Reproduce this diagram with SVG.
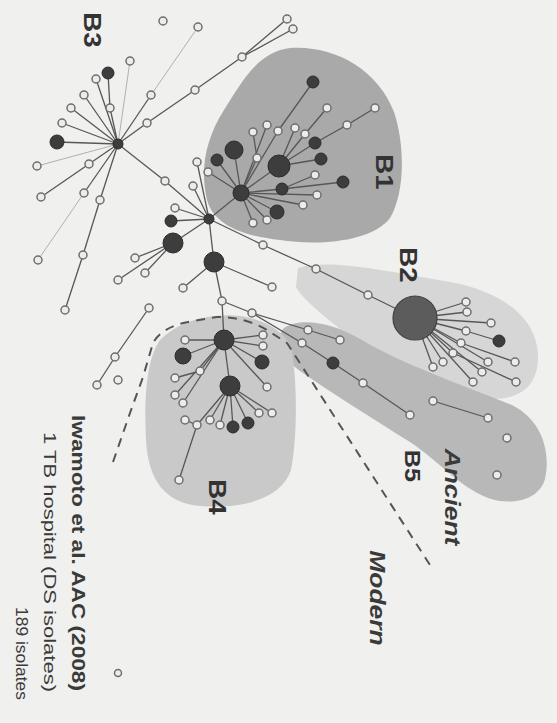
<svg xmlns="http://www.w3.org/2000/svg" width="557" height="723" viewBox="0 0 557 723">
<style>
.bg{fill:#f0f0ee}
.e{stroke:#575757;stroke-width:1.3;fill:none}
.ef{stroke:#b0b0b0;stroke-width:1;fill:none}
.o{fill:#ececec;stroke:#6e6e6e;stroke-width:1.5}
.d{fill:#3d3d3d;stroke:#2c2c2c;stroke-width:1}
.lab{font-family:"Liberation Sans",Arial,sans-serif;font-weight:bold;fill:#333}
.it{font-style:italic;fill:#3a3a3a}
.cap{font-family:"Liberation Sans",Arial,sans-serif;fill:#3a3a3a}
</style>
<rect class="bg" x="0" y="0" width="557" height="723"/>
<g id="regions">
<path id="regB1" d="M290,48 C335,45 378,70 394,112 C406,148 404,195 390,218 C372,242 318,246 280,240 C245,236 214,226 207,200 C200,170 205,140 224,110 C243,80 258,52 290,48 Z" fill="#a9a9a9"/>
<path id="regB2" d="M298,268 C330,258 390,272 450,282 C505,292 538,320 538,357 C538,392 512,402 482,398 C440,392 402,372 372,352 C340,330 304,302 296,287 Z" fill="#d6d6d6"/>
<path id="regB5" d="M284,328 C300,317 332,322 362,340 C402,364 462,385 512,405 C542,420 551,452 545,479 C539,501 510,506 488,498 C458,486 440,462 410,442 C370,417 330,392 300,371 C280,356 274,338 284,328 Z" fill="#b8b8b8"/>
<path id="regB4" d="M215,316 C250,312 282,326 291,347 C298,382 297,440 291,470 C281,500 240,509 200,506 C165,503 148,480 146,440 C144,400 146,360 160,340 C175,325 195,318 215,316 Z" fill="#c9c9c9"/>
</g>
<path id="divider" d="M113,462 L130,413 L143,377 L153,343 Q162,326 193,321 L217,317 Q245,317 267,330 L287,343 L430,565" fill="none" stroke="#555" stroke-width="2" stroke-dasharray="9,7"/>
<g id="edges">
<line class="e" x1="118" y1="144" x2="147" y2="123"/><line class="e" x1="147" y1="123" x2="195" y2="90"/><line class="e" x1="195" y1="90" x2="242" y2="57"/><line class="e" x1="242" y1="57" x2="287" y2="19"/><line class="e" x1="242" y1="57" x2="293" y2="29"/>
<line class="e" x1="118" y1="144" x2="151" y2="95"/><line class="ef" x1="151" y1="95" x2="198" y2="27"/><line class="ef" x1="118" y1="144" x2="130" y2="61"/>
<line class="e" x1="118" y1="144" x2="110" y2="108"/><line class="e" x1="110" y1="108" x2="108" y2="73"/>
<line class="e" x1="118" y1="144" x2="96" y2="79"/><line class="e" x1="118" y1="144" x2="84" y2="95"/><line class="e" x1="118" y1="144" x2="71" y2="108"/><line class="e" x1="118" y1="144" x2="62" y2="123"/><line class="e" x1="118" y1="144" x2="57" y2="142"/>
<line class="ef" x1="118" y1="144" x2="37" y2="166"/><line class="e" x1="118" y1="144" x2="89" y2="164"/><line class="e" x1="89" y1="164" x2="41" y2="197"/>
<line class="e" x1="118" y1="144" x2="84" y2="193"/><line class="ef" x1="84" y1="193" x2="38" y2="260"/>
<line class="e" x1="118" y1="144" x2="100" y2="200"/><line class="e" x1="100" y1="200" x2="83" y2="255"/><line class="e" x1="83" y1="255" x2="65" y2="310"/>
<line class="e" x1="118" y1="144" x2="165" y2="181"/><line class="e" x1="165" y1="181" x2="209" y2="219"/>
<line class="e" x1="209" y1="219" x2="171" y2="221"/><line class="e" x1="209" y1="219" x2="175" y2="208"/><line class="e" x1="209" y1="219" x2="193" y2="186"/><line class="e" x1="209" y1="219" x2="197" y2="162"/>
<line class="e" x1="209" y1="219" x2="173" y2="243"/><line class="e" x1="173" y1="243" x2="135" y2="258"/><line class="e" x1="173" y1="243" x2="145" y2="273"/><line class="e" x1="173" y1="243" x2="118" y2="280"/>
<line class="e" x1="209" y1="219" x2="214" y2="262"/><line class="e" x1="214" y1="262" x2="183" y2="288"/><line class="e" x1="214" y1="262" x2="272" y2="287"/><line class="e" x1="214" y1="262" x2="222" y2="301"/>
<line class="e" x1="209" y1="219" x2="263" y2="245"/><line class="e" x1="263" y1="245" x2="316" y2="269"/><line class="e" x1="316" y1="269" x2="368" y2="295"/><line class="e" x1="368" y1="295" x2="415" y2="318"/>
<line class="e" x1="149" y1="308" x2="115" y2="357"/><line class="e" x1="115" y1="357" x2="97" y2="385"/>
<line class="e" x1="209" y1="219" x2="241" y2="193"/>
<line class="e" x1="241" y1="193" x2="279" y2="166"/><line class="e" x1="241" y1="193" x2="234" y2="150"/><line class="e" x1="241" y1="193" x2="217" y2="160"/><line class="e" x1="241" y1="193" x2="208" y2="172"/>
<line class="e" x1="241" y1="193" x2="282" y2="189"/><line class="e" x1="282" y1="189" x2="343" y2="182"/><line class="e" x1="282" y1="189" x2="315" y2="175"/>
<line class="e" x1="241" y1="193" x2="317" y2="195"/><line class="e" x1="241" y1="193" x2="303" y2="205"/><line class="e" x1="241" y1="193" x2="277" y2="212"/><line class="e" x1="241" y1="193" x2="253" y2="223"/><line class="e" x1="241" y1="193" x2="267" y2="220"/>
<line class="e" x1="241" y1="193" x2="257" y2="158"/><line class="e" x1="257" y1="158" x2="253" y2="132"/><line class="e" x1="241" y1="193" x2="267" y2="125"/><line class="e" x1="241" y1="193" x2="278" y2="131"/><line class="e" x1="278" y1="131" x2="313" y2="82"/>
<line class="e" x1="279" y1="166" x2="295" y2="128"/><line class="e" x1="279" y1="166" x2="305" y2="134"/><line class="e" x1="305" y1="134" x2="327" y2="108"/>
<line class="e" x1="279" y1="166" x2="315" y2="143"/><line class="e" x1="315" y1="143" x2="347" y2="125"/><line class="e" x1="347" y1="125" x2="375" y2="108"/><line class="e" x1="279" y1="166" x2="321" y2="159"/>
<line class="e" x1="415" y1="318" x2="466" y2="302"/><line class="e" x1="415" y1="318" x2="467" y2="312"/><line class="e" x1="415" y1="318" x2="491" y2="323"/><line class="e" x1="415" y1="318" x2="466" y2="331"/><line class="e" x1="466" y1="331" x2="499" y2="341"/>
<line class="e" x1="415" y1="318" x2="461" y2="343"/><line class="e" x1="461" y1="343" x2="515" y2="362"/><line class="e" x1="415" y1="318" x2="453" y2="353"/><line class="e" x1="453" y1="353" x2="516" y2="382"/>
<line class="e" x1="415" y1="318" x2="488" y2="362"/><line class="e" x1="415" y1="318" x2="482" y2="372"/><line class="e" x1="415" y1="318" x2="473" y2="382"/><line class="e" x1="415" y1="318" x2="443" y2="362"/><line class="e" x1="415" y1="318" x2="433" y2="367"/>
<line class="e" x1="222" y1="301" x2="252" y2="313"/><line class="e" x1="252" y1="313" x2="308" y2="330"/><line class="e" x1="308" y1="330" x2="340" y2="340"/>
<line class="e" x1="252" y1="313" x2="302" y2="343"/><line class="e" x1="302" y1="343" x2="333" y2="363"/><line class="e" x1="333" y1="363" x2="363" y2="383"/><line class="e" x1="363" y1="383" x2="410" y2="415"/>
<line class="e" x1="433" y1="401" x2="488" y2="418"/>
<line class="e" x1="222" y1="301" x2="224" y2="340"/><line class="e" x1="224" y1="340" x2="230" y2="386"/>
<line class="e" x1="224" y1="340" x2="183" y2="356"/><line class="e" x1="224" y1="340" x2="185" y2="340"/><line class="e" x1="224" y1="340" x2="263" y2="335"/><line class="e" x1="224" y1="340" x2="263" y2="346"/><line class="e" x1="224" y1="340" x2="262" y2="362"/><line class="e" x1="224" y1="340" x2="267" y2="387"/>
<line class="e" x1="224" y1="340" x2="200" y2="371"/><line class="e" x1="200" y1="371" x2="175" y2="378"/><line class="e" x1="224" y1="340" x2="175" y2="395"/><line class="e" x1="224" y1="340" x2="183" y2="403"/>
<line class="e" x1="230" y1="386" x2="210" y2="420"/><line class="e" x1="230" y1="386" x2="220" y2="425"/><line class="e" x1="230" y1="386" x2="233" y2="427"/><line class="e" x1="230" y1="386" x2="248" y2="423"/><line class="e" x1="230" y1="386" x2="259" y2="413"/><line class="e" x1="230" y1="386" x2="272" y2="413"/>
<line class="e" x1="230" y1="386" x2="197" y2="425"/><line class="e" x1="197" y1="425" x2="185" y2="420"/><line class="e" x1="197" y1="425" x2="179" y2="480"/>
</g>
<g id="nodes">
<g id="h3"><circle class="d" cx="118" cy="144" r="5"/></g>
<g id="a1"><circle class="o" cx="147" cy="123" r="4"/></g>
<g id="a2"><circle class="o" cx="195" cy="90" r="4"/></g>
<g id="a3"><circle class="o" cx="242" cy="57" r="4"/></g>
<g id="a4"><circle class="o" cx="287" cy="19" r="4"/></g>
<g id="a5"><circle class="o" cx="293" cy="29" r="4"/></g>
<g id="a6"><circle class="o" cx="151" cy="95" r="4"/></g>
<g id="a7"><circle class="o" cx="198" cy="27" r="4"/></g>
<g id="a8"><circle class="o" cx="163" cy="21" r="4"/></g>
<g id="a9"><circle class="o" cx="130" cy="61" r="4"/></g>
<g id="a10"><circle class="o" cx="110" cy="108" r="4"/></g>
<g id="a11"><circle class="d" cx="108" cy="73" r="6"/></g>
<g id="a12"><circle class="o" cx="96" cy="79" r="4"/></g>
<g id="a13"><circle class="o" cx="84" cy="95" r="4"/></g>
<g id="a14"><circle class="o" cx="71" cy="108" r="4"/></g>
<g id="a15"><circle class="o" cx="62" cy="123" r="4"/></g>
<g id="a16"><circle class="d" cx="57" cy="142" r="7"/></g>
<g id="a17"><circle class="o" cx="37" cy="166" r="4"/></g>
<g id="a18"><circle class="o" cx="89" cy="164" r="4"/></g>
<g id="a19"><circle class="o" cx="41" cy="197" r="4"/></g>
<g id="a20"><circle class="o" cx="84" cy="193" r="4"/></g>
<g id="a21"><circle class="o" cx="38" cy="260" r="4"/></g>
<g id="a22"><circle class="o" cx="100" cy="200" r="4"/></g>
<g id="a23"><circle class="o" cx="83" cy="255" r="4"/></g>
<g id="a24"><circle class="o" cx="65" cy="310" r="4"/></g>
<g id="a25"><circle class="o" cx="165" cy="181" r="4"/></g>
<g id="hc"><circle class="d" cx="209" cy="219" r="5"/></g>
<g id="c1"><circle class="d" cx="171" cy="221" r="6"/></g>
<g id="c2"><circle class="o" cx="175" cy="208" r="4"/></g>
<g id="c3"><circle class="o" cx="193" cy="186" r="4"/></g>
<g id="c4"><circle class="d" cx="173" cy="243" r="10"/></g>
<g id="c5"><circle class="o" cx="135" cy="258" r="4"/></g>
<g id="c6"><circle class="o" cx="145" cy="273" r="4"/></g>
<g id="c7"><circle class="o" cx="118" cy="280" r="4"/></g>
<g id="c8"><circle class="d" cx="214" cy="262" r="10"/></g>
<g id="c9"><circle class="o" cx="183" cy="288" r="4"/></g>
<g id="c10"><circle class="o" cx="272" cy="287" r="4"/></g>
<g id="c11"><circle class="o" cx="222" cy="301" r="4"/></g>
<g id="c12"><circle class="o" cx="263" cy="245" r="4"/></g>
<g id="c13"><circle class="o" cx="316" cy="269" r="4"/></g>
<g id="c14"><circle class="o" cx="368" cy="295" r="4"/></g>
<g id="e1"><circle class="o" cx="149" cy="308" r="4"/></g>
<g id="e2"><circle class="o" cx="115" cy="357" r="4"/></g>
<g id="e3"><circle class="o" cx="97" cy="385" r="4"/></g>
<g id="e4"><circle class="o" cx="118" cy="380" r="4"/></g>
<g id="h1"><circle class="d" cx="241" cy="193" r="8"/></g>
<g id="b1"><circle class="d" cx="279" cy="166" r="11"/></g>
<g id="b2"><circle class="d" cx="234" cy="150" r="9"/></g>
<g id="b3"><circle class="d" cx="217" cy="160" r="6"/></g>
<g id="b4"><circle class="d" cx="282" cy="189" r="6"/></g>
<g id="b5"><circle class="d" cx="277" cy="212" r="7"/></g>
<g id="b6"><circle class="d" cx="315" cy="143" r="6"/></g>
<g id="b7"><circle class="d" cx="321" cy="159" r="6"/></g>
<g id="b8"><circle class="d" cx="343" cy="182" r="6"/></g>
<g id="b9"><circle class="d" cx="313" cy="82" r="6"/></g>
<g id="b10"><circle class="o" cx="208" cy="172" r="4"/></g>
<g id="b11"><circle class="o" cx="197" cy="162" r="4"/></g>
<g id="b13"><circle class="o" cx="253" cy="132" r="4"/></g>
<g id="b14"><circle class="o" cx="267" cy="125" r="4"/></g>
<g id="b15"><circle class="o" cx="278" cy="131" r="4"/></g>
<g id="b16"><circle class="o" cx="257" cy="158" r="4"/></g>
<g id="b17"><circle class="o" cx="295" cy="128" r="4"/></g>
<g id="b18"><circle class="o" cx="305" cy="134" r="4"/></g>
<g id="b19"><circle class="o" cx="327" cy="108" r="4"/></g>
<g id="b20"><circle class="o" cx="347" cy="125" r="4"/></g>
<g id="b21"><circle class="o" cx="375" cy="108" r="4"/></g>
<g id="b22"><circle class="o" cx="315" cy="175" r="4"/></g>
<g id="b23"><circle class="o" cx="317" cy="195" r="4"/></g>
<g id="b24"><circle class="o" cx="303" cy="205" r="4"/></g>
<g id="b25"><circle class="o" cx="253" cy="223" r="4"/></g>
<g id="b26"><circle class="o" cx="267" cy="220" r="4"/></g>
<g id="hb"><circle cx="415" cy="318" r="22" fill="#5c5c5c" stroke="#404040" stroke-width="1.2"/></g>
<g id="d1"><circle class="o" cx="466" cy="302" r="4"/></g>
<g id="d2"><circle class="o" cx="467" cy="312" r="4"/></g>
<g id="d3"><circle class="o" cx="491" cy="323" r="4"/></g>
<g id="d4"><circle class="o" cx="466" cy="331" r="4"/></g>
<g id="d5"><circle class="d" cx="499" cy="341" r="6"/></g>
<g id="d6"><circle class="o" cx="461" cy="343" r="4"/></g>
<g id="d7"><circle class="o" cx="515" cy="362" r="4"/></g>
<g id="d8"><circle class="o" cx="453" cy="353" r="4"/></g>
<g id="d9"><circle class="o" cx="516" cy="382" r="4"/></g>
<g id="d10"><circle class="o" cx="488" cy="362" r="4"/></g>
<g id="d11"><circle class="o" cx="482" cy="372" r="4"/></g>
<g id="d12"><circle class="o" cx="473" cy="382" r="4"/></g>
<g id="d13"><circle class="o" cx="443" cy="362" r="4"/></g>
<g id="d14"><circle class="o" cx="433" cy="367" r="4"/></g>
<g id="f1"><circle class="o" cx="252" cy="313" r="4"/></g>
<g id="f2"><circle class="o" cx="308" cy="330" r="4"/></g>
<g id="f3"><circle class="o" cx="340" cy="340" r="4"/></g>
<g id="f4"><circle class="o" cx="302" cy="343" r="4"/></g>
<g id="f5"><circle class="d" cx="333" cy="363" r="6"/></g>
<g id="f6"><circle class="o" cx="363" cy="383" r="4"/></g>
<g id="f7"><circle class="o" cx="410" cy="415" r="4"/></g>
<g id="f8"><circle class="o" cx="433" cy="401" r="4"/></g>
<g id="f9"><circle class="o" cx="488" cy="418" r="4"/></g>
<g id="f10"><circle class="o" cx="507" cy="438" r="4"/></g>
<g id="f11"><circle class="o" cx="497" cy="475" r="4"/></g>
<g id="h4"><circle class="d" cx="224" cy="340" r="10"/></g>
<g id="g1"><circle class="d" cx="230" cy="386" r="10"/></g>
<g id="g2"><circle class="d" cx="183" cy="356" r="8"/></g>
<g id="g3"><circle class="d" cx="262" cy="362" r="7"/></g>
<g id="g4"><circle class="o" cx="185" cy="340" r="4"/></g>
<g id="g5"><circle class="o" cx="263" cy="335" r="4"/></g>
<g id="g6"><circle class="o" cx="263" cy="346" r="4"/></g>
<g id="g7"><circle class="o" cx="267" cy="387" r="4"/></g>
<g id="g8"><circle class="o" cx="200" cy="371" r="4"/></g>
<g id="g9"><circle class="o" cx="175" cy="378" r="4"/></g>
<g id="g10"><circle class="o" cx="175" cy="395" r="4"/></g>
<g id="g11"><circle class="o" cx="183" cy="403" r="4"/></g>
<g id="g12"><circle class="o" cx="185" cy="420" r="4"/></g>
<g id="g13"><circle class="o" cx="197" cy="425" r="4"/></g>
<g id="g14"><circle class="o" cx="210" cy="420" r="4"/></g>
<g id="g15"><circle class="o" cx="220" cy="425" r="4"/></g>
<g id="g16"><circle class="d" cx="233" cy="427" r="6"/></g>
<g id="g17"><circle class="d" cx="248" cy="423" r="6"/></g>
<g id="g18"><circle class="o" cx="259" cy="413" r="4"/></g>
<g id="g19"><circle class="o" cx="272" cy="413" r="4"/></g>
<g id="g20"><circle class="o" cx="179" cy="480" r="4"/></g>
<g id="z1"><circle class="o" cx="118" cy="673" r="3.5"/></g>
</g>
<g id="labels">
<text class="lab" font-size="24" text-anchor="middle" transform="translate(84,30) scale(1,1.15) rotate(90)">B3</text>
<text class="lab" font-size="24" text-anchor="middle" transform="translate(376,172) scale(1,1.15) rotate(90)">B1</text>
<text class="lab" font-size="24" text-anchor="middle" transform="translate(400,265) scale(1,1.15) rotate(90)">B2</text>
<text class="lab" font-size="24" text-anchor="middle" transform="translate(209,497) scale(1,1.15) rotate(90)">B4</text>
<text class="lab" font-size="22" text-anchor="middle" transform="translate(405,466) scale(1,1.15) rotate(90)">B5</text>
<text class="lab it" font-size="22" text-anchor="middle" transform="translate(445,497) scale(1,1.2) rotate(90)">Ancient</text>
<text class="lab it" font-size="22" text-anchor="middle" transform="translate(370,598) scale(1,1.2) rotate(90)">Modern</text>
<text class="cap" font-weight="bold" font-size="18" transform="translate(72,415) rotate(90)" textLength="276" lengthAdjust="spacingAndGlyphs">Iwamoto et al. AAC (2008)</text>
<text class="cap" font-size="17" transform="translate(44,432) rotate(90)" textLength="260" lengthAdjust="spacingAndGlyphs">1 TB hospital (DS isolates)</text>
<text class="cap" font-size="17" transform="translate(16,607) rotate(90)" textLength="93" lengthAdjust="spacingAndGlyphs">189 isolates</text>
</g>
</svg>
